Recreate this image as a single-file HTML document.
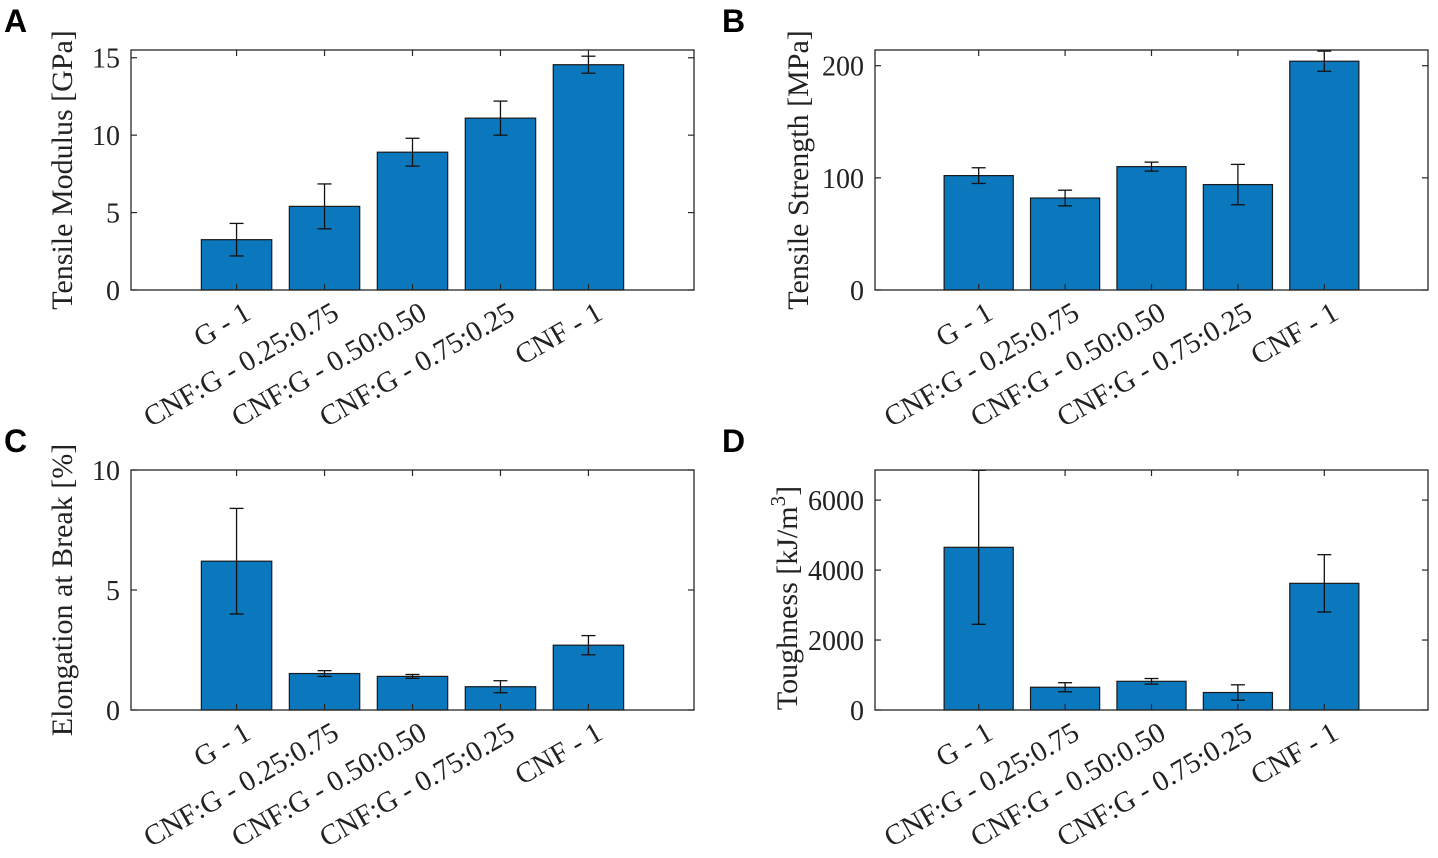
<!DOCTYPE html>
<html><head><meta charset="utf-8"><style>
html,body{margin:0;padding:0;background:#fff;}
</style></head><body>
<svg id="fig" width="1438" height="853" viewBox="0 0 1438 853" xmlns="http://www.w3.org/2000/svg"></svg>
<script>
const categories = ["G - 1","CNF:G - 0.25:0.75","CNF:G - 0.50:0.50","CNF:G - 0.75:0.25","CNF - 1"];
const modulusVals = [3.25, 5.4, 8.9, 11.1, 14.55];
const modulusErr = [1.05, 1.45, 0.9, 1.1, 0.55];
const modulusTicks = [0, 5, 10, 15];
const strengthVals = [102, 82, 110, 94, 204];
const strengthErr = [7, 7, 4, 18, 9];
const strengthTicks = [0, 100, 200];
const elongVals = [6.2, 1.52, 1.4, 0.97, 2.7];
const elongErr = [2.2, 0.12, 0.08, 0.25, 0.4];
const elongTicks = [0, 5, 10];
const toughVals = [4650, 650, 820, 500, 3620];
const toughErr = [2200, 130, 80, 220, 820];
const toughTicks = [0, 2000, 4000, 6000];

const NS = "http://www.w3.org/2000/svg";
const SERIF = '"Liberation Serif", serif';
const svg = document.getElementById("fig");
function mk(tag, attrs, parent){const e=document.createElementNS(NS,tag);for(const k in attrs)e.setAttribute(k,attrs[k]);(parent||svg).appendChild(e);return e;}

const panels = [
 {id:"a",letter:"A",lx:4,ly:32,L:131,R:694,T:50,B:290,ymax:15.5,vals:modulusVals,err:modulusErr,ticks:modulusTicks,title:"Tensile Modulus [GPa]",tx:72},
 {id:"b",letter:"B",lx:722,ly:32,L:875,R:1428,T:50,B:290,ymax:214,vals:strengthVals,err:strengthErr,ticks:strengthTicks,title:"Tensile Strength [MPa]",tx:808},
 {id:"c",letter:"C",lx:4,ly:452,L:131,R:694,T:470,B:710,ymax:10,vals:elongVals,err:elongErr,ticks:elongTicks,title:"Elongation at Break [%]",tx:72},
 {id:"d",letter:"D",lx:722,ly:452,L:875,R:1428,T:470,B:710,ymax:6860,vals:toughVals,err:toughErr,ticks:toughTicks,title:"Toughness [kJ/m3]",tx:797}
];

panels.forEach(p=>{
  const g = mk("g",{});
  
  
  const xs = i => p.L + (p.R-p.L)*((i+1)+0.2)/6.4;
  const ys = v => p.B - (p.B-p.T)*Math.min(v,p.ymax)/p.ymax;
  const bw = (p.R-p.L)/6.4*0.8;
  const lt = mk("text",{x:p.lx,y:p.ly,"font-family":'"Liberation Sans", sans-serif',"font-weight":"bold","font-size":32,fill:"#000"},g); lt.textContent=p.letter;
  
  
  p.vals.forEach((v,i)=>{
    const r = mk("rect",{x:xs(i)-bw/2,y:ys(v),width:bw,height:p.B-ys(v),fill:"#0b77bd",stroke:"#1a1a1a","stroke-width":1.2},g);
    
    
  });
  p.vals.forEach((v,i)=>{
    const e = mk("g",{stroke:"#111","stroke-width":1.3},g);
    
    
    const x=xs(i), y1=ys(v+p.err[i]), y2=ys(v-p.err[i]);
    mk("line",{x1:x,x2:x,y1:y1,y2:y2},e);
    if(v+p.err[i]<=p.ymax) mk("line",{x1:x-7,x2:x+7,y1:y1,y2:y1},e);
    mk("line",{x1:x-7,x2:x+7,y1:y2,y2:y2},e);
  });
  const f = mk("rect",{x:p.L,y:p.T,width:p.R-p.L,height:p.B-p.T,fill:"none",stroke:"#262626","stroke-width":1.3},g);
  
  
  p.ticks.forEach(t=>{
    const y=ys(t);
    mk("line",{x1:p.L,x2:p.L+6,y1:y,y2:y,stroke:"#262626","stroke-width":1.2},g);
    mk("line",{x1:p.R,x2:p.R-6,y1:y,y2:y,stroke:"#262626","stroke-width":1.2},g);
    const tl = mk("text",{x:p.L-11,y:y+10,"text-anchor":"end","font-family":SERIF,"font-size":28,fill:"#222"},g);
    tl.textContent=t;
    
    
  });
  categories.forEach((c,i)=>{
    const x=xs(i);
    mk("line",{x1:x,x2:x,y1:p.B,y2:p.B-6,stroke:"#262626","stroke-width":1.2},g);
    mk("line",{x1:x,x2:x,y1:p.T,y2:p.T+6,stroke:"#262626","stroke-width":1.2},g);
    const ax=x+16, ay=p.B+28;
    const tl = mk("text",{x:ax,y:ay,"text-anchor":"end","font-family":SERIF,"font-size":29,fill:"#222",transform:`rotate(-30 ${ax} ${ay})`},g);
    tl.textContent=c;
    
    
  });
  const cy=(p.T+p.B)/2 + (p.id==="d"?8:0);
  const tt = mk("text",{x:p.tx,y:cy,"text-anchor":"middle","font-family":SERIF,"font-size":30,fill:"#222",transform:`rotate(-90 ${p.tx} ${cy})`},g);
  if(p.id==="d"){
    tt.appendChild(document.createTextNode("Toughness [kJ/m"));
    const s=mk("tspan",{dy:-12,"font-size":21},tt); s.textContent="3";
    const s2=mk("tspan",{dy:12},tt); s2.textContent="]";
  } else tt.textContent=p.title;
  
  
});
</script>
</body></html>
